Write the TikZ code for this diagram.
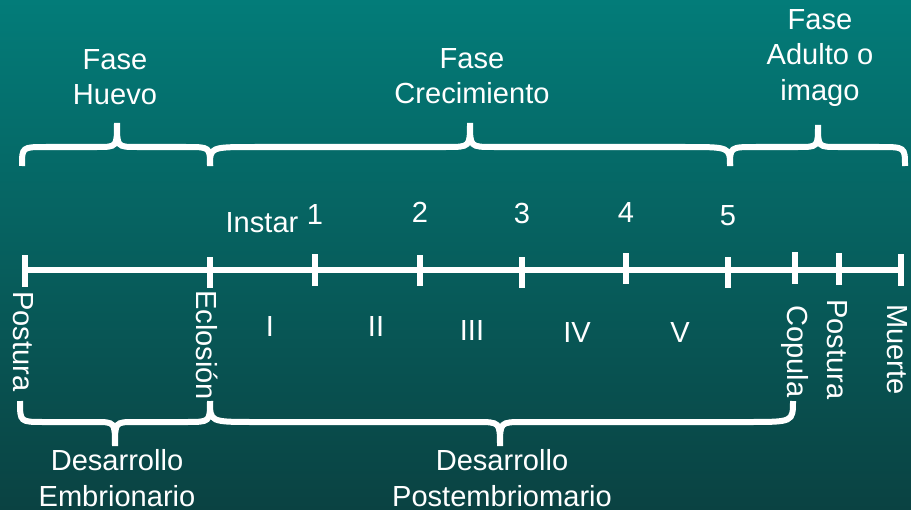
\documentclass[tikz,border=0pt]{standalone}
\usepackage{fontspec}
\setmainfont{Liberation Sans}
\definecolor{bgtop}{RGB}{3,124,121}
\definecolor{bgbot}{RGB}{10,66,66}
\newcommand{\hbrace}[8]{%
  \draw[brc] (#1,#4) .. controls (#1,#5) .. ({#1+#7},#5) -- ({#2-#8},#5)
    .. controls (#2,#5) .. (#2,#6) .. controls (#2,#5) .. ({#2+#8},#5)
    -- ({#3-#7},#5) .. controls (#3,#5) .. (#3,#4);}
\begin{document}
\begin{tikzpicture}[x=0.75pt,y=-0.75pt,
  txt/.style={text=white,font=\fontsize{21.8}{26.5}\selectfont,inner sep=0pt,align=center},
  rot/.style={txt,rotate=-90,anchor=west},
  brc/.style={draw=white,line width=4.5pt,line cap=butt},
  tl/.style={draw=white,line width=4.5pt}]
\shade[top color=bgtop,bottom color=bgbot] (0,0) rectangle (911,510);
\useasboundingbox (0,0) rectangle (911,510);
% timeline
\draw[tl] (22,270) -- (904,270);
\foreach \x/\a/\b in {25/255/287,210/257/288,315/254/286,420/255/286,522/257/288,626/253/284,728/257/288,795/252/284,839/253/285,901/254/286}
  \draw[tl] (\x,\a) -- (\x,\b);
% top braces
\hbrace{22}{117}{210}{166}{147}{123}{24}{20}
\hbrace{210}{470}{730}{166}{147}{123}{45}{24}
\hbrace{730}{818}{905}{166}{147}{125}{26}{20}
% bottom braces
\hbrace{20}{115}{210}{401}{422}{446}{24}{20}
\hbrace{210}{500}{793}{401}{422}{446}{45}{24}
% top labels
\node[txt] (fh) at (115,77) {Fase\\Huevo};
\node[txt] (fc) at (472,76) {Fase\\Crecimiento};
\node[txt] (fa) at (820,58) {Fase\\Adulto o\\imago};
\node[txt] (ins) at (262,223) {Instar};
\node[txt] (n1) at (315,215) {1};
\node[txt] (n2) at (420,212) {2};
\node[txt] (n3) at (522,213) {3};
\node[txt] (n4) at (626,213) {4};
\node[txt] (n5) at (728,216) {5};
% roman
\node[txt] (r1) at (270,326) {I};
\node[txt] (r2) at (376,326) {II};
\node[txt] (r3) at (472,330) {III};
\node[txt] (r4) at (577,332) {IV};
\node[txt] (r5) at (680,332) {V};
% rotated
\node[rot] (p1) at (23,291) {Postura};
\node[rot] (ec) at (207,290) {Eclosión};
\node[rot] (co) at (795,305) {Copula};
\node[rot] (p2) at (837,299) {Postura};
\node[rot] (mu) at (897,304) {Muerte};
% bottom labels
\node[txt] (de) at (117,478) {Desarrollo\\Embrionario};
\node[txt] (dp) at (502,478) {Desarrollo\\Postembriomario};
\end{tikzpicture}
\end{document}
